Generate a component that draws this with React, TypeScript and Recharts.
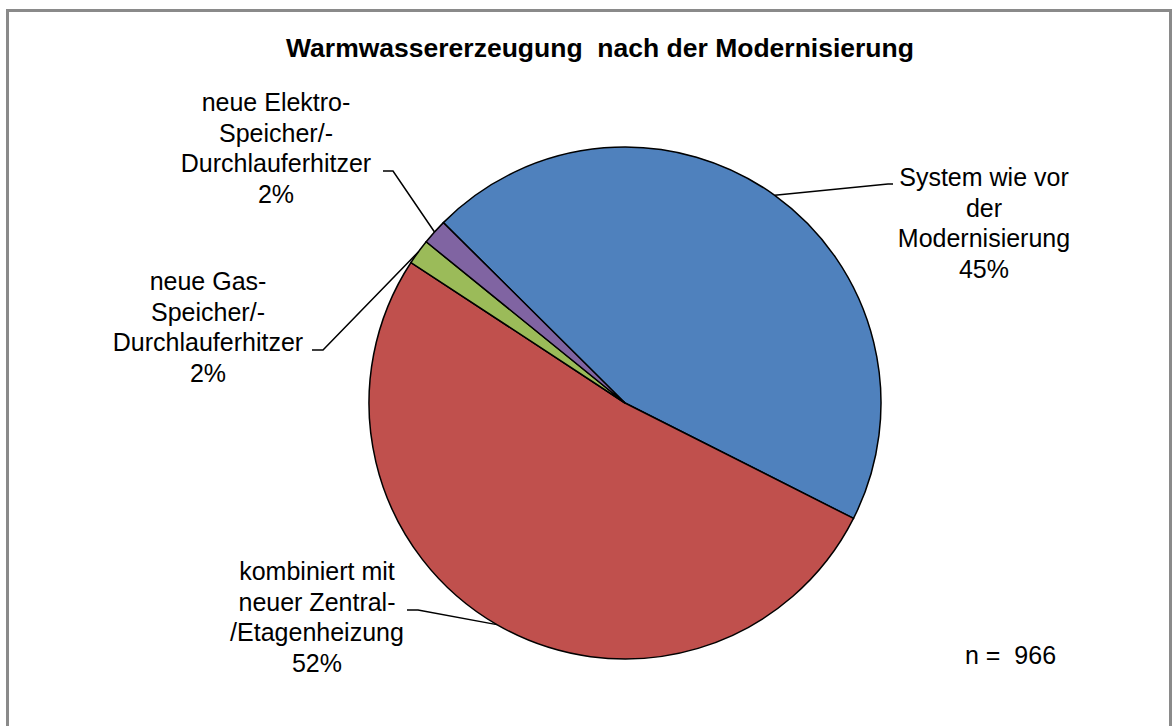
import { PieChart, Pie, Cell } from "recharts";

const categories = [
  "System wie vor der Modernisierung",
  "kombiniert mit neuer Zentral-/Etagenheizung",
  "neue Gas-Speicher/-Durchlauferhitzer",
  "neue Elektro-Speicher/-Durchlauferhitzer",
];
const shares = [45.0, 51.8, 1.6, 1.6];
const labelLines = [
  ["System wie vor", "der", "Modernisierung"],
  ["kombiniert mit", "neuer Zentral-", "/Etagenheizung"],
  ["neue Gas-", "Speicher/-", "Durchlauferhitzer"],
  ["neue Elektro-", "Speicher/-", "Durchlauferhitzer"],
];
const sampleSize = 966;

const colors = ["#4F81BD", "#C0504D", "#9BBB59", "#8064A2"];

// where each label box sits and where its leader line bends
const labelLayout = [
  { x: 984, y: 186, elbow: [888, 184], end: [893, 184] },
  { x: 317, y: 580, elbow: [418, 610], end: [407, 610] },
  { x: 208, y: 290, elbow: [323, 350], end: [312, 350] },
  { x: 276, y: 111, elbow: [393, 171], end: [383, 171] },
];

const data = categories.map((name, i) => ({ name, value: shares[i] }));
const total = shares.reduce((a, b) => a + b, 0);
const RADIAN = Math.PI / 180;
const font = "'Liberation Sans', Arial, sans-serif";

function renderLabel(props: any) {
  const { cx, cy, midAngle, outerRadius, index, value } = props;
  const lay = labelLayout[index];
  const ex = cx + outerRadius * Math.cos(-midAngle * RADIAN);
  const ey = cy + outerRadius * Math.sin(-midAngle * RADIAN);
  const lines = [...labelLines[index], `${Math.round((value / total) * 100)}%`];
  return (
    <g>
      <polyline
        points={`${ex},${ey} ${lay.elbow[0]},${lay.elbow[1]} ${lay.end[0]},${lay.end[1]}`}
        fill="none"
        stroke="#000"
        strokeWidth={1.5}
      />
      {lines.map((t, k) => (
        <text
          key={k}
          x={lay.x}
          y={lay.y + k * 30.5}
          textAnchor="middle"
          fontFamily={font}
          fontSize={25}
          fill="#000"
        >
          {t}
        </text>
      ))}
    </g>
  );
}

export default function App() {
  return (
    <div
      style={{
        position: "fixed",
        left: 0,
        top: 0,
        width: 1176,
        height: 726,
        background: "#fff",
        overflow: "hidden",
      }}
    >
      <div
        style={{
          position: "absolute",
          left: 6,
          top: 9,
          width: 1160,
          height: 760,
          border: "3px solid #8a8a8a",
        }}
      />
      <PieChart
        width={1176}
        height={726}
        margin={{ top: 0, right: 0, bottom: 0, left: 0 }}
        style={{ position: "absolute", left: 0, top: 0 }}
      >
        <text
          x={600}
          y={57}
          textAnchor="middle"
          fontFamily={font}
          fontSize={26.5}
          fontWeight="bold"
          fill="#000"
          style={{ whiteSpace: "pre" }}
        >
          Warmwassererzeugung  nach der Modernisierung
        </text>
        <Pie
          data={data}
          dataKey="value"
          nameKey="name"
          cx={625}
          cy={403}
          outerRadius={256}
          startAngle={135.2}
          endAngle={-224.8}
          stroke="#000"
          strokeWidth={1.5}
          label={renderLabel}
          labelLine={false}
          isAnimationActive={false}
        >
          {data.map((d, i) => (
            <Cell key={d.name} fill={colors[i]} />
          ))}
        </Pie>
        <text
          x={965}
          y={664}
          fontFamily={font}
          fontSize={25}
          fill="#000"
          style={{ whiteSpace: "pre" }}
        >
          {`n =  ${sampleSize}`}
        </text>
      </PieChart>
    </div>
  );
}
